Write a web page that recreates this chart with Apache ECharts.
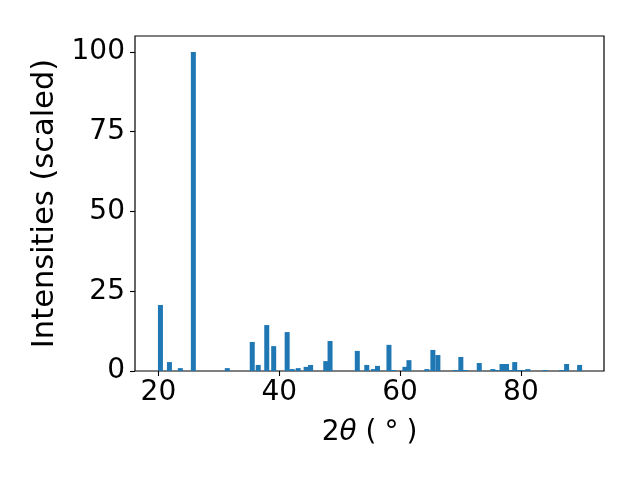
<!DOCTYPE html>
<html>
<head>
<meta charset="utf-8">
<script src="https://cdn.jsdelivr.net/npm/echarts@6/dist/echarts.min.js"></script>
<style>html,body{margin:0;padding:0;background:#fff;}#c{width:640px;height:480px;}</style>
</head>
<body>
<div id="c"></div>
<script>
const twoTheta = [20.33, 21.82, 23.63, 25.78, 31.4, 35.53, 36.52, 37.93, 39.08, 41.31, 42.14, 43.13, 44.45, 45.19, 47.7, 48.41, 52.92, 54.49, 55.6, 56.26, 58.16, 58.9, 60.8, 61.47, 64.44, 65.43, 66.26, 69.15, 70.06, 70.8, 73.11, 75.35, 75.9, 76.88, 77.62, 78.2, 78.98, 79.7, 80.4, 81.15, 84.0, 86.74, 87.57, 89.72];
const intensity = [20.7, 2.8, 0.9, 100, 0.9, 9.1, 1.9, 14.4, 7.8, 12.2, 0.6, 0.9, 1.3, 1.9, 3.1, 9.4, 6.3, 1.9, 0.6, 1.6, 8.2, 0.3, 1.3, 3.4, 0.6, 6.6, 5.0, 0.3, 4.4, 0.3, 2.5, 0.6, 0.3, 2.2, 2.2, 0.3, 2.8, 0.3, 0.3, 0.6, 0.3, 0.3, 2.2, 1.9];
const xTicks = [20, 40, 60, 80];
const yTicks = [0, 25, 50, 75, 100];

const font = 'DejaVu Sans';
const chart = echarts.init(document.getElementById('c'), null, {renderer: 'canvas'});
chart.setOption({
  animation: false,
  backgroundColor: '#fff',
  grid: {left: 135, right: 36, top: 36, bottom: 109, show: true, borderColor: '#000', borderWidth: 1.2, backgroundColor: 'transparent'},
  xAxis: {
    type: 'value', min: 16.12, max: 93.76,
    axisLine: {show: false},
    splitLine: {show: false},
    axisTick: {show: true, customValues: xTicks, length: 5, lineStyle: {color: '#000', width: 1.1}},
    axisLabel: {customValues: xTicks, fontSize: 28, fontFamily: font, color: '#000', margin: 8},
    name: '{n|2}{i|θ}{n| (}{s|°}{n|)}',
    nameLocation: 'middle', nameGap: 48,
    nameTextStyle: {fontSize: 28, fontFamily: font, color: '#000',
      rich: {
        n: {fontSize: 28, fontFamily: font, color: '#000'},
        i: {fontSize: 28, fontFamily: font, fontStyle: 'italic', color: '#000'},
        s: {fontSize: 28, fontFamily: font, color: '#000', padding: [0, 8, 0, 8]}
      }}
  },
  yAxis: {
    type: 'value', min: 0, max: 105,
    axisLine: {show: false},
    splitLine: {show: false},
    axisTick: {show: true, customValues: yTicks, length: 5, lineStyle: {color: '#000', width: 1.1}},
    axisLabel: {customValues: yTicks, fontSize: 28, fontFamily: font, color: '#000', margin: 10},
    name: 'Intensities (scaled)',
    nameLocation: 'middle', nameGap: 74,
    nameTextStyle: {fontSize: 30.5, fontFamily: font, color: '#000'}
  },
  series: [{
    type: 'bar',
    barWidth: 5,
    itemStyle: {color: '#1f77b4'},
    data: twoTheta.map((x, i) => [x, intensity[i]])
  }]
});
</script>
</body>
</html>
